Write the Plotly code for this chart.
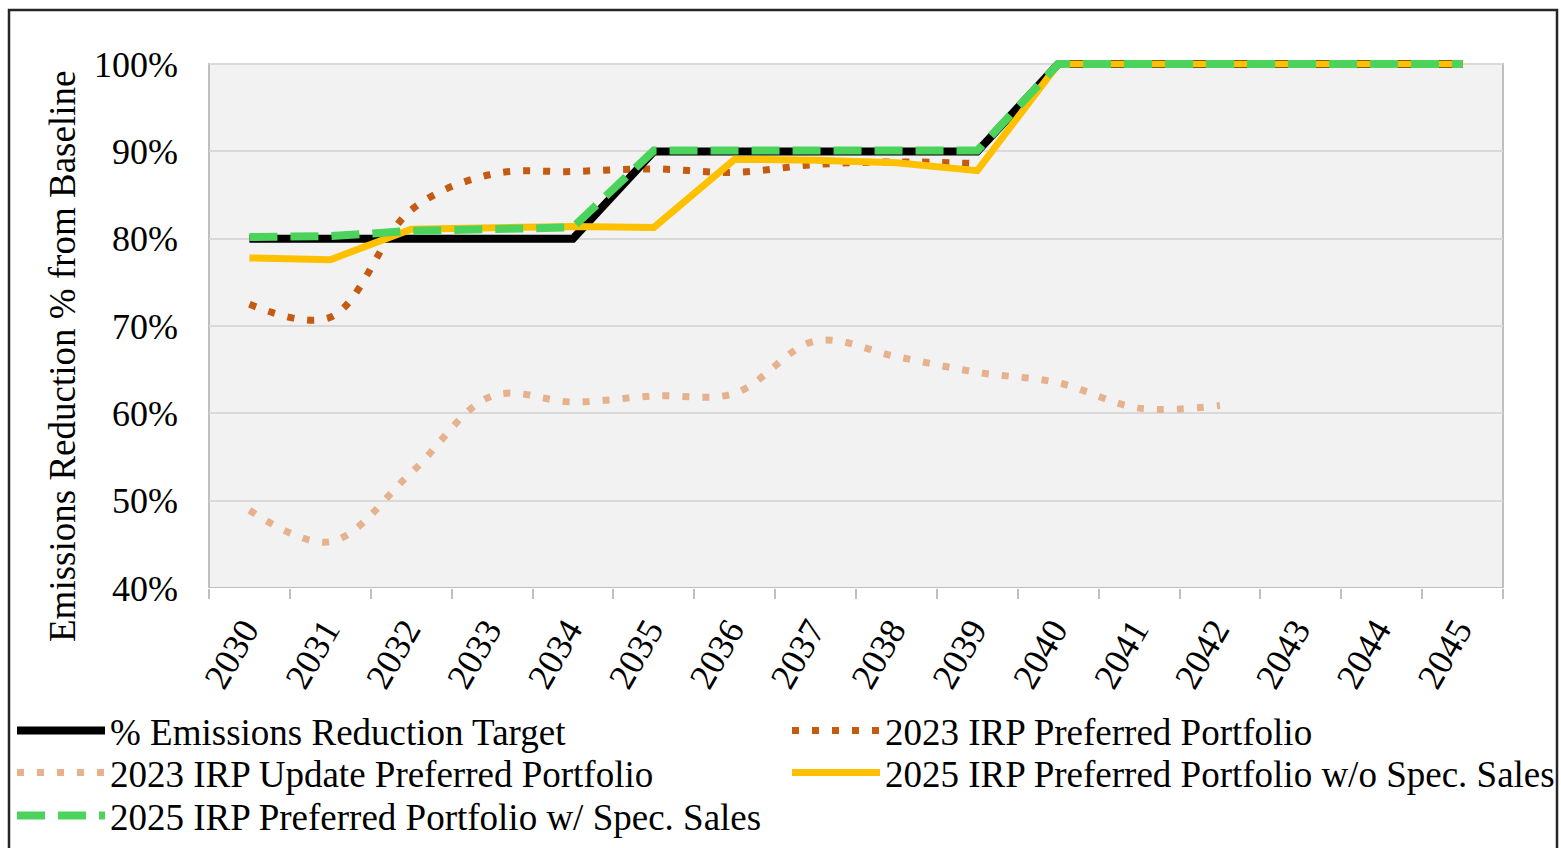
import plotly.graph_objects as go

years = ["2030", "2031", "2032", "2033", "2034", "2035", "2036", "2037",
         "2038", "2039", "2040", "2041", "2042", "2043", "2044", "2045"]

target = [80, 80, 80, 80, 80, 90, 90, 90, 90, 90, 100, 100, 100, 100, 100, 100]
irp2023 = [72.5, 71.0, 83.3, 87.4, 87.7, 88.0, 87.6, 88.5, 88.8, 88.6,
           None, None, None, None, None, None]
irp2023_update = [48.9, 45.3, 53.2, 62.0, 61.3, 62.0, 62.3, 68.3, 66.5, 64.7,
                  63.5, 60.6, 60.9, None, None, None]
irp2025_wo = [77.8, 77.6, 81.1, 81.3, 81.4, 81.3, 89.1, 89.0, 88.7, 87.8,
              100, 100, 100, 100, 100, 100]
irp2025_w = [80.2, 80.3, 80.9, 81.2, 81.3, 90.1, 90.1, 90.1, 90.1, 90.1,
             100, 100, 100, 100, 100, 100]

y_ticks = [40, 50, 60, 70, 80, 90, 100]
y_tick_labels = ["40%", "50%", "60%", "70%", "80%", "90%", "100%"]

FONT = "Liberation Serif, Times New Roman, serif"

W, H = 1561, 848
L, R, T, B = 209, 58, 58, 260
PW = W - L - R
PH = H - T - B


def px_x(p):
    return (p - L) / PW


def px_y(p):
    return (H - B - p) / PH


fig = go.Figure()

# drawing order: dotted series first, then target, then 2025 portfolios
fig.add_trace(go.Scatter(
    x=years, y=irp2023, name="2023 IRP Preferred Portfolio",
    mode="lines", line=dict(color="#C55A11", width=7, dash="7px,13px", shape="spline"),
    legend="legend2", hoverinfo="x+y+name"))
fig.add_trace(go.Scatter(
    x=years, y=irp2023_update, name="2023 IRP Update Preferred Portfolio",
    mode="lines", line=dict(color="#E6B18D", width=7, dash="7px,13px", shape="spline"),
    legend="legend3", hoverinfo="x+y+name"))
fig.add_trace(go.Scatter(
    x=years, y=target, name="% Emissions Reduction Target",
    mode="lines", line=dict(color="#000000", width=8),
    legend="legend", hoverinfo="x+y+name"))
fig.add_trace(go.Scatter(
    x=years, y=irp2025_wo, name="2025 IRP Preferred Portfolio w/o Spec. Sales",
    mode="lines", line=dict(color="#FFC000", width=7),
    legend="legend4", hoverinfo="x+y+name"))
fig.add_trace(go.Scatter(
    x=years, y=irp2025_w, name="2025 IRP Preferred Portfolio w/ Spec. Sales",
    mode="lines", line=dict(color="#4CD35C", width=8, dash="28px,13px"),
    legend="legend5", hoverinfo="x+y+name"))

leg_font = dict(family=FONT, size=37, color="#000000")


def leg(xp, yp):
    return dict(x=px_x(xp), y=px_y(yp), xanchor="left", yanchor="middle",
                font=leg_font, bgcolor="rgba(0,0,0,0)", borderwidth=0,
                itemwidth=88, orientation="v", visible=True)


shapes = [
    # plot area fill
    dict(type="rect", xref="paper", yref="y", x0=0, x1=1, y0=40, y1=100,
         fillcolor="#F2F2F2", line=dict(width=0), layer="below"),
    # plot area border
    dict(type="rect", xref="paper", yref="y", x0=0, x1=1, y0=40, y1=100,
         fillcolor="rgba(0,0,0,0)", line=dict(color="#BFBFBF", width=2), layer="between"),
    # outer frame
    dict(type="rect", xref="paper", yref="paper",
         x0=px_x(9), x1=px_x(1557), y0=px_y(880), y1=px_y(10),
         fillcolor="rgba(0,0,0,0)", line=dict(color="#262626", width=2.5), layer="below"),
]

annotations = [
    dict(text="Emissions Reduction % from Baseline", xref="paper", yref="paper",
         x=px_x(62), y=px_y(357), xanchor="center", yanchor="middle",
         textangle=-90, showarrow=False,
         font=dict(family=FONT, size=37, color="#000000")),
]

fig.update_layout(
    width=W, height=H,
    margin=dict(l=L, r=R, t=T, b=B, autoexpand=False),
    paper_bgcolor="#FFFFFF",
    plot_bgcolor="rgba(0,0,0,0)",
    font=dict(family=FONT, size=36, color="#000000"),
    showlegend=True,
    shapes=shapes,
    annotations=annotations,
    legend=leg(12, 731),
    legend2=leg(787, 731),
    legend3=leg(12, 773),
    legend4=leg(787, 773),
    legend5=leg(12, 816),
    xaxis=dict(
        type="category", categoryorder="array", categoryarray=years,
        range=[-0.5, len(years) - 0.5],
        tickson="boundaries", ticks="outside", ticklen=10, tickwidth=2,
        tickcolor="#BFBFBF", showgrid=False, showline=False, zeroline=False,
        tickangle=-60, tickfont=dict(family=FONT, size=36, color="#000000"),
        ticklabelstandoff=13, ticklabelshift=-5,
    ),
    yaxis=dict(
        range=[40, 100.7], tickmode="array", tickvals=y_ticks, ticktext=y_tick_labels,
        showgrid=True, gridcolor="#D9D9D9", gridwidth=2,
        showline=False, zeroline=False, ticks="",
        tickfont=dict(family=FONT, size=36, color="#000000"),
        ticklabelstandoff=30,
    ),
)

fig.write_html(
    "out.html",
    config={"displayModeBar": False},
    post_script="document.body.style.margin='0';document.body.style.overflow='hidden';",
)
